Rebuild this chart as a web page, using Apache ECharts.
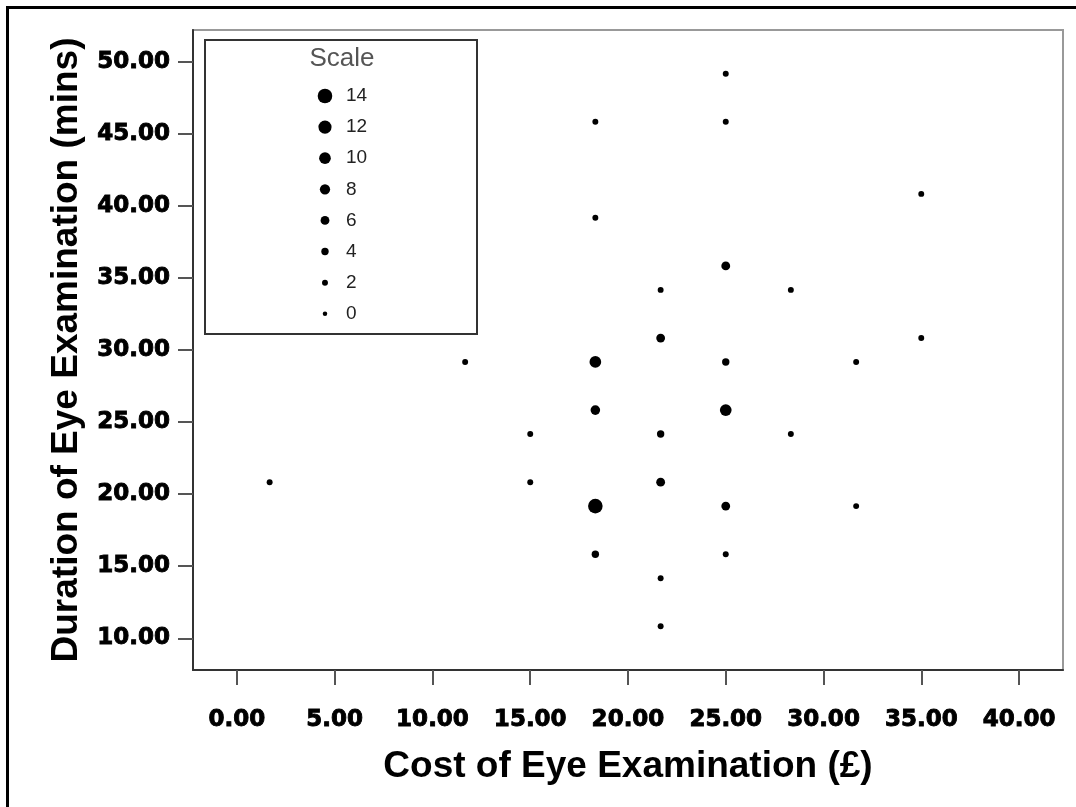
<!DOCTYPE html>
<html>
<head>
<meta charset="utf-8">
<script src="https://cdn.jsdelivr.net/npm/echarts@6/dist/echarts.min.js"></script>
<style>html,body{margin:0;padding:0;background:#fff;}#c{width:1076px;height:807px;}</style>
</head>
<body>
<div id="c"></div>
<script>
// Data
const costs = [1.67, 11.67, 15, 15, 18.33, 18.33, 18.33, 18.33, 18.33, 18.33, 21.67, 21.67, 21.67, 21.67, 21.67, 21.67, 25, 25, 25, 25, 25, 25, 25, 28.33, 28.33, 31.67, 31.67, 35, 35];
const durations = [20.83, 29.17, 24.17, 20.83, 45.83, 39.17, 29.17, 25.83, 19.17, 15.83, 34.17, 30.83, 24.17, 20.83, 14.17, 10.83, 49.17, 45.83, 35.83, 29.17, 25.83, 19.17, 15.83, 34.17, 24.17, 29.17, 19.17, 40.83, 30.83];
const counts = [2, 2, 2, 2, 2, 2, 10, 7, 14, 4, 2, 6, 4, 6, 2, 2, 2, 2, 6, 4, 10, 6, 2, 2, 2, 2, 2, 2, 2];
const xTicks = [0, 5, 10, 15, 20, 25, 30, 35, 40];
const xTickLabels = ['0.00', '5.00', '10.00', '15.00', '20.00', '25.00', '30.00', '35.00', '40.00'];
const yTicks = [10, 15, 20, 25, 30, 35, 40, 45, 50];
const yTickLabels = ['10.00', '15.00', '20.00', '25.00', '30.00', '35.00', '40.00', '45.00', '50.00'];
const legendValues = [14, 12, 10, 8, 6, 4, 2, 0];
const legendLabels = ['14', '12', '10', '8', '6', '4', '2', '0'];

const sizeOf = v => 4.5 + 0.72 * v;
const points = costs.map((c, i) => [c, durations[i], counts[i]]);
const legendPts = legendValues.map((v, i) => [0, v, i]);

const chart = echarts.init(document.getElementById('c'), null, {renderer: 'canvas'});
const tickLabelStyle = {fontFamily: 'DejaVu Sans', fontWeight: 'bold', fontSize: 23, color: '#000',
  textBorderColor: '#000', textBorderWidth: 0.9};
const titleStyle = {fontFamily: 'Liberation Sans', fontWeight: 'bold', fontSize: 37, color: '#000'};

chart.setOption({
  animation: false,
  backgroundColor: '#fff',
  title: {
    text: 'Scale', left: 342, top: 46, textAlign: 'center', padding: 0,
    textStyle: {fontFamily: 'Liberation Sans', fontWeight: 'normal', fontSize: 26, color: '#555'}
  },
  graphic: [{
    type: 'rect', silent: true, z: 0,
    shape: {x: 7.5, y: 7.5, width: 1100, height: 1100},
    style: {fill: 'none', stroke: '#000', lineWidth: 3}
  }],
  grid: [
    {left: 193, top: 30, right: 13, bottom: 137, show: true, borderColor: '#999', borderWidth: 2, backgroundColor: '#fff'},
    {left: 205, top: 40, width: 272, height: 294, show: true, borderColor: '#333', borderWidth: 2, backgroundColor: '#fff', z: 5}
  ],
  xAxis: [
    {
      type: 'value', gridIndex: 0, min: -2.25, max: 42.25,
      name: 'Cost of Eye Examination (£)', nameLocation: 'middle', nameGap: 78, nameTextStyle: titleStyle,
      axisLine: {show: true, onZero: false, lineStyle: {color: '#333', width: 2}},
      axisTick: {show: true, length: 15, customValues: xTicks, lineStyle: {color: '#555', width: 2}},
      axisLabel: {margin: 39, customValues: xTicks, ...tickLabelStyle,
        formatter: v => xTickLabels[xTicks.indexOf(v)] ?? ''},
      splitLine: {show: false}
    },
    {type: 'value', gridIndex: 1, min: -1, max: 1.267, show: false}
  ],
  yAxis: [
    {
      type: 'value', gridIndex: 0, min: 7.8, max: 52.2,
      name: 'Duration of Eye Examination (mins)', nameLocation: 'middle', nameGap: 108, nameTextStyle: titleStyle,
      axisLine: {show: true, onZero: false, lineStyle: {color: '#333', width: 2}},
      axisTick: {show: true, length: 15, customValues: yTicks, lineStyle: {color: '#555', width: 2}},
      axisLabel: {margin: 23, customValues: yTicks, ...tickLabelStyle,
        formatter: v => yTickLabels[yTicks.indexOf(v)] ?? ''},
      splitLine: {show: false}
    },
    {type: 'value', gridIndex: 1, min: -1.3, max: 17.6, show: false}
  ],
  series: [
    {
      type: 'scatter', xAxisIndex: 0, yAxisIndex: 0, data: points,
      symbol: 'circle', symbolSize: d => sizeOf(d[2]),
      itemStyle: {color: '#000', opacity: 1}, silent: true
    },
    {
      type: 'scatter', xAxisIndex: 1, yAxisIndex: 1, data: legendPts, z: 6,
      symbol: 'circle', symbolSize: d => sizeOf(d[1]),
      itemStyle: {color: '#000', opacity: 1}, silent: true,
      label: {
        show: true, position: 'inside', align: 'left', offset: [21, 0],
        fontFamily: 'Liberation Sans', fontSize: 19, color: '#222',
        formatter: p => legendLabels[p.data[2]]
      }
    }
  ]
});
</script>
</body>
</html>
